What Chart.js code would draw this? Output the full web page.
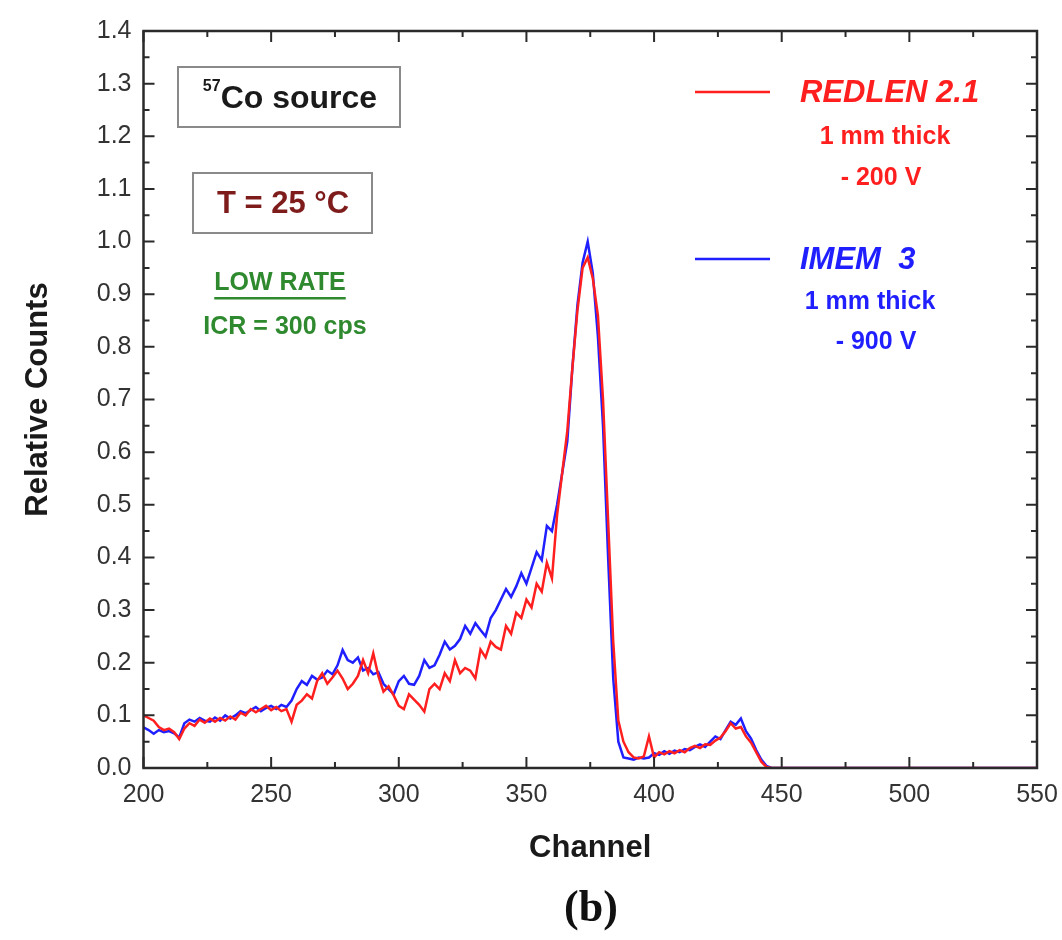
<!DOCTYPE html>
<html>
<head>
<meta charset="utf-8">
<script src="https://cdn.jsdelivr.net/npm/chart.js@4.4.0/dist/chart.umd.min.js"></script>
<style>
  html, body { margin: 0; padding: 0; background: #fff; }
  #wrap { width: 1062px; height: 940px; }
</style>
</head>
<body>
<div id="wrap"><canvas id="spectrumChart" width="1062" height="940"></canvas></div>
<script>
// Channel numbers (x axis)
const channels = [
  200, 202, 204, 206, 208, 210, 212, 214, 216, 218, 220, 222, 224, 226, 228, 230, 232, 234, 236, 238,
  240, 242, 244, 246, 248, 250, 252, 254, 256, 258, 260, 262, 264, 266, 268, 270, 272, 274, 276, 278,
  280, 282, 284, 286, 288, 290, 292, 294, 296, 298, 300, 302, 304, 306, 308, 310, 312, 314, 316, 318,
  320, 322, 324, 326, 328, 330, 332, 334, 336, 338, 340, 342, 344, 346, 348, 350, 352, 354, 356, 358,
  360, 362, 364, 366, 368, 370, 372, 374, 376, 378, 380, 382, 384, 386, 388, 390, 392, 394, 396, 398,
  400, 402, 404, 406, 408, 410, 412, 414, 416, 418, 420, 422, 424, 426, 428, 430, 432, 434, 436, 438,
  440, 442, 444, 446, 450, 500, 550
];

// REDLEN 2.1 relative counts
const redlenCounts = [
  0.100, 0.095, 0.090, 0.078, 0.072, 0.075, 0.068, 0.055, 0.075, 0.085, 0.080, 0.092, 0.086, 0.094, 0.088, 0.095, 0.090, 0.098, 0.092, 0.105,
  0.100, 0.112, 0.106, 0.112, 0.118, 0.110, 0.116, 0.108, 0.112, 0.088, 0.120, 0.128, 0.140, 0.132, 0.165, 0.180, 0.160, 0.172, 0.185, 0.170,
  0.150, 0.160, 0.175, 0.205, 0.180, 0.218, 0.175, 0.145, 0.155, 0.138, 0.118, 0.112, 0.140, 0.130, 0.120, 0.107, 0.150, 0.160, 0.150, 0.180,
  0.165, 0.205, 0.180, 0.190, 0.185, 0.170, 0.225, 0.210, 0.240, 0.230, 0.225, 0.270, 0.255, 0.295, 0.285, 0.320, 0.305, 0.350, 0.335, 0.390,
  0.360, 0.480, 0.560, 0.640, 0.760, 0.870, 0.950, 0.970, 0.930, 0.860, 0.700, 0.470, 0.240, 0.090, 0.050, 0.030, 0.020, 0.018, 0.022, 0.060,
  0.020, 0.030, 0.026, 0.032, 0.028, 0.034, 0.030, 0.038, 0.042, 0.038, 0.045, 0.044, 0.052, 0.058, 0.070, 0.085, 0.075, 0.078, 0.060, 0.048,
  0.030, 0.012, 0.002, 0, 0, 0, 0
];

// IMEM 3 relative counts
const imemCounts = [
  0.077, 0.072, 0.065, 0.072, 0.068, 0.070, 0.066, 0.058, 0.085, 0.092, 0.088, 0.095, 0.090, 0.088, 0.096, 0.090, 0.100, 0.094, 0.100, 0.108,
  0.104, 0.110, 0.116, 0.108, 0.114, 0.118, 0.112, 0.120, 0.116, 0.128, 0.150, 0.165, 0.158, 0.175, 0.168, 0.172, 0.185, 0.178, 0.195, 0.224,
  0.205, 0.200, 0.210, 0.185, 0.190, 0.178, 0.182, 0.160, 0.150, 0.140, 0.165, 0.175, 0.160, 0.158, 0.175, 0.205, 0.190, 0.195, 0.215, 0.240,
  0.225, 0.232, 0.245, 0.270, 0.255, 0.275, 0.262, 0.250, 0.285, 0.300, 0.320, 0.340, 0.325, 0.345, 0.370, 0.350, 0.380, 0.410, 0.395, 0.460,
  0.450, 0.500, 0.560, 0.620, 0.760, 0.880, 0.960, 1.000, 0.940, 0.820, 0.650, 0.400, 0.170, 0.050, 0.020, 0.018, 0.016, 0.020, 0.018, 0.020,
  0.028, 0.025, 0.032, 0.027, 0.033, 0.030, 0.036, 0.034, 0.040, 0.045, 0.040, 0.050, 0.060, 0.055, 0.072, 0.088, 0.082, 0.094, 0.070, 0.056,
  0.034, 0.016, 0.004, 0, 0, 0, 0
];

// Axis tick values
const xTickValues = [200, 250, 300, 350, 400, 450, 500, 550];
const yTickValues = [0, 0.1, 0.2, 0.3, 0.4, 0.5, 0.6, 0.7, 0.8, 0.9, 1.0, 1.1, 1.2, 1.3, 1.4];

// Legend texts
const seriesNames = ['REDLEN 2.1', 'IMEM  3'];
const seriesNotes = [['1 mm thick', '- 200 V'], ['1 mm thick', '- 900 V']];

const toPoints = vals => channels.map((c, i) => ({ x: c, y: vals[i] }));
const SANS = '"Liberation Sans", Arial, sans-serif';

// frame, inward ticks and the text notes
const frameAndNotes = {
  id: 'frameAndNotes',
  afterDraw(chart) {
    const ctx = chart.ctx;
    const a = chart.chartArea;
    const xs = chart.scales.x, ys = chart.scales.y;
    ctx.save();
    ctx.strokeStyle = '#2a2a2a';
    ctx.lineWidth = 2.5;
    ctx.strokeRect(a.left, a.top, a.right - a.left, a.bottom - a.top);

    ctx.lineWidth = 2;
    ctx.beginPath();
    for (let v = xs.min; v <= xs.max; v += 25) {
      const px = xs.getPixelForValue(v);
      const len = v % 50 === 0 ? 11 : 6;
      ctx.moveTo(px, a.bottom); ctx.lineTo(px, a.bottom - len);
      ctx.moveTo(px, a.top); ctx.lineTo(px, a.top + len);
    }
    for (let i = 0; i <= 28; i++) {
      const py = ys.getPixelForValue(i * 0.05);
      const len = i % 2 === 0 ? 11 : 6;
      ctx.moveTo(a.left, py); ctx.lineTo(a.left + len, py);
      ctx.moveTo(a.right, py); ctx.lineTo(a.right - len, py);
    }
    ctx.stroke();

    // boxes
    ctx.strokeStyle = '#8a8a8a';
    ctx.lineWidth = 2;
    ctx.strokeRect(178, 67, 222, 60);
    ctx.strokeRect(193, 173, 179, 60);

    ctx.textBaseline = 'middle';
    // 57Co source
    ctx.fillStyle = '#1a1a1a';
    ctx.font = 'bold 16px ' + SANS;
    const w57 = ctx.measureText('57').width;
    ctx.font = 'bold 32px ' + SANS;
    const wCo = ctx.measureText('Co source').width;
    const sx = 290 - (w57 + wCo) / 2;
    ctx.textAlign = 'left';
    ctx.fillText('Co source', sx + w57, 99);
    ctx.font = 'bold 16px ' + SANS;
    ctx.fillText('57', sx, 87);

    ctx.textAlign = 'center';
    ctx.fillStyle = '#7e1c1c';
    ctx.font = 'bold 31px ' + SANS;
    ctx.fillText('T = 25 \u00B0C', 283, 204);

    ctx.fillStyle = '#2f8a2f';
    ctx.font = 'bold 25px ' + SANS;
    ctx.fillText('LOW RATE', 280, 283);
    const wLow = ctx.measureText('LOW RATE').width;
    ctx.fillRect(280 - wLow / 2, 297, wLow, 2.5);
    ctx.fillText('ICR = 300 cps', 285, 327);

    // legend
    const legendY = [92, 259];
    const noteX = [[885, 881], [870, 876]];
    const noteY = [[137, 178], [302, 342]];
    chart.data.datasets.forEach((ds, i) => {
      ctx.strokeStyle = ds.borderColor;
      ctx.lineWidth = 2.5;
      ctx.beginPath();
      ctx.moveTo(695, legendY[i]); ctx.lineTo(770, legendY[i]);
      ctx.stroke();
      ctx.fillStyle = ds.borderColor;
      ctx.textAlign = 'left';
      ctx.font = 'italic bold 31px ' + SANS;
      ctx.fillText(ds.label, 800, legendY[i] + 1);
      ctx.textAlign = 'center';
      ctx.font = 'bold 25px ' + SANS;
      seriesNotes[i].forEach((t, j) => ctx.fillText(t, noteX[i][j], noteY[i][j]));
    });

    // panel letter
    ctx.fillStyle = '#111';
    ctx.textAlign = 'center';
    ctx.font = 'bold 44px "Liberation Serif", "Times New Roman", serif';
    ctx.fillText('(b)', 591, 910);
    ctx.restore();
  }
};

const ctx = document.getElementById('spectrumChart').getContext('2d');
const spectrumChart = new Chart(ctx, {
  type: 'line',
  data: {
    datasets: [
      {
        label: seriesNames[0],
        data: toPoints(redlenCounts),
        borderColor: '#ff1f1f',
        borderWidth: 2.5,
        pointRadius: 0,
        tension: 0,
        fill: false
      },
      {
        label: seriesNames[1],
        data: toPoints(imemCounts),
        borderColor: '#1f1fff',
        borderWidth: 2.5,
        pointRadius: 0,
        tension: 0,
        fill: false
      }
    ]
  },
  options: {
    responsive: false,
    animation: false,
    devicePixelRatio: 1,
    layout: { padding: { top: 31, right: 25, left: 0, bottom: 0 } },
    plugins: {
      legend: { display: false },
      tooltip: { enabled: false }
    },
    scales: {
      x: {
        type: 'linear',
        min: 200,
        max: 550,
        grid: { display: false, drawTicks: false },
        border: { display: false },
        afterBuildTicks: s => { s.ticks = xTickValues.map(v => ({ value: v })); },
        afterFit: s => { s.height = 172; s.paddingRight = 0; s.paddingLeft = 0; },
        ticks: {
          padding: 12,
          color: '#333',
          font: { family: SANS, size: 25 },
          maxRotation: 0
        },
        title: {
          display: true,
          text: 'Channel',
          color: '#1a1a1a',
          font: { family: SANS, size: 31, weight: 'bold' },
          padding: { top: 0, bottom: 73 }
        }
      },
      y: {
        min: 0,
        max: 1.4,
        grid: { display: false, drawTicks: false },
        border: { display: false },
        afterBuildTicks: s => { s.ticks = yTickValues.map(v => ({ value: v })); },
        afterFit: s => { s.width = 143.5; s.paddingTop = 0; s.paddingBottom = 0; },
        ticks: {
          padding: 12,
          color: '#333',
          font: { family: SANS, size: 25 },
          callback: v => v.toFixed(1)
        },
        title: {
          display: true,
          text: 'Relative Counts',
          color: '#1a1a1a',
          font: { family: SANS, size: 31, weight: 'bold' },
          padding: { top: 20, bottom: 0 }
        }
      }
    }
  },
  plugins: [frameAndNotes]
});
</script>
</body>
</html>
